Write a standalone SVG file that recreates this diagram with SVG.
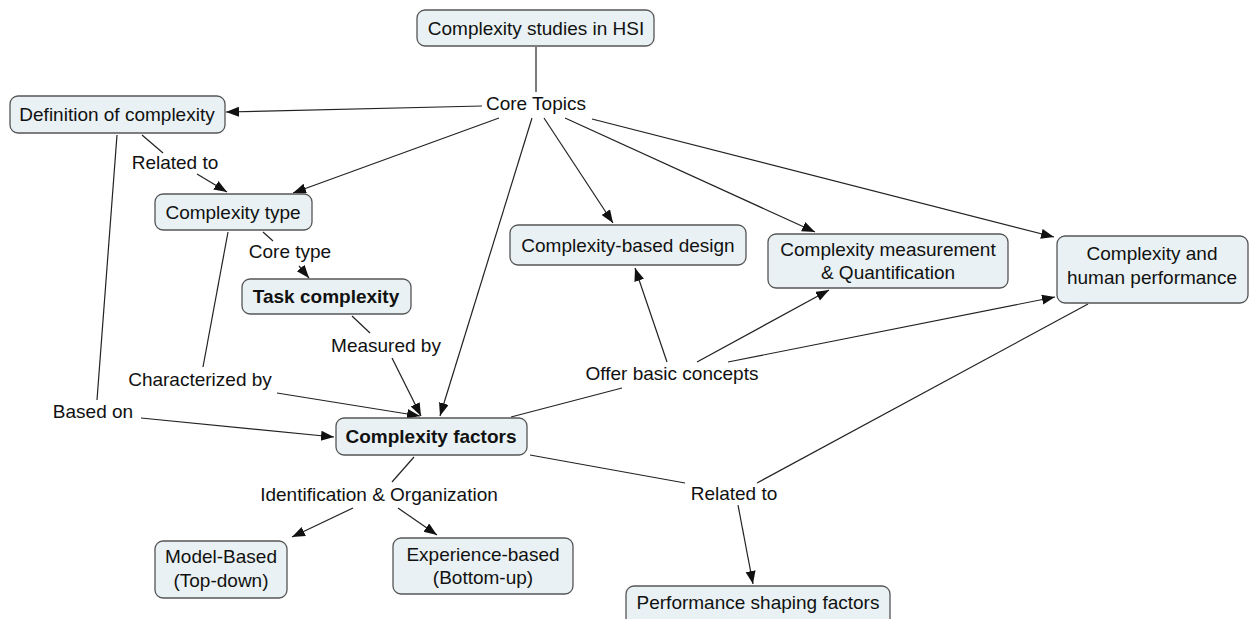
<svg xmlns="http://www.w3.org/2000/svg" width="1255" height="619" viewBox="0 0 1255 619">
<style>
.box{fill:#e9f1f4;stroke:#555;stroke-width:1.3}
text{font-family:"Liberation Sans",Arial,sans-serif;font-size:19px;fill:#111;text-anchor:middle}
.b{font-weight:bold}
.c line{stroke:#222;stroke-width:1.2;fill:none}
.c line.a{marker-end:url(#ah)}
</style>
<defs>
<marker id="ah" markerUnits="userSpaceOnUse" markerWidth="14" markerHeight="11" refX="13" refY="5" orient="auto">
<path d="M0,0 L13,5 L0,10 z" fill="#111"/>
</marker>
</defs>
<rect width="1255" height="619" fill="#fff"/>
<g class="c" id="connectors">
<line x1="536" y1="47" x2="536" y2="92"/>
<line class="a" x1="482" y1="106" x2="226" y2="112"/>
<line class="a" x1="499" y1="118" x2="293" y2="193"/>
<line class="a" x1="532" y1="118" x2="440" y2="416"/>
<line class="a" x1="544" y1="118" x2="613" y2="223"/>
<line class="a" x1="565" y1="118" x2="815" y2="232"/>
<line class="a" x1="592" y1="119" x2="1054" y2="237"/>
<line x1="142" y1="135" x2="163" y2="153"/>
<line class="a" x1="197" y1="174" x2="227" y2="192"/>
<line x1="263" y1="232" x2="273" y2="241"/>
<line class="a" x1="299" y1="266" x2="309" y2="278"/>
<line x1="228" y1="232" x2="203" y2="367"/>
<line x1="117" y1="135" x2="97" y2="400"/>
<line x1="352" y1="316" x2="370" y2="333"/>
<line class="a" x1="392" y1="358" x2="421" y2="416"/>
<line class="a" x1="277" y1="393" x2="420" y2="416"/>
<line class="a" x1="141" y1="418" x2="334" y2="437"/>
<line x1="511" y1="417" x2="622" y2="388"/>
<line class="a" x1="667" y1="362" x2="635" y2="268"/>
<line class="a" x1="697" y1="362" x2="829" y2="290"/>
<line class="a" x1="728" y1="362" x2="1055" y2="297"/>
<line x1="530" y1="455" x2="685" y2="483"/>
<line x1="1088" y1="304" x2="757" y2="483"/>
<line class="a" x1="738" y1="505" x2="753" y2="584"/>
<line x1="414" y1="457" x2="392" y2="482"/>
<line class="a" x1="353" y1="508" x2="292" y2="537"/>
<line class="a" x1="398" y1="508" x2="437" y2="535"/>
</g>
<g id="hsi"><rect class="box" x="417" y="10" width="237" height="36" rx="8"/><text x="536" y="35">Complexity studies in HSI</text></g>
<g id="coretopics"><text x="536" y="110">Core Topics</text></g>
<g id="definition"><rect class="box" x="10" y="96" width="215" height="37" rx="8"/><text x="117" y="121">Definition of complexity</text></g>
<g id="relatedto1"><text x="175" y="169">Related to</text></g>
<g id="ctype"><rect class="box" x="155" y="194" width="157" height="36" rx="8"/><text x="233" y="219">Complexity type</text></g>
<g id="coretype"><text x="290" y="258">Core type</text></g>
<g id="task"><rect class="box" x="242" y="279" width="169" height="35" rx="8"/><text class="b" x="326" y="303">Task complexity</text></g>
<g id="measured"><text x="386" y="352">Measured by</text></g>
<g id="characterized"><text x="200" y="386">Characterized by</text></g>
<g id="basedon"><text x="93" y="418">Based on</text></g>
<g id="cbd"><rect class="box" x="510" y="225" width="236" height="40" rx="8"/><text x="628" y="252">Complexity-based design</text></g>
<g id="cmq"><rect class="box" x="768" y="234" width="240" height="54" rx="8"/><text x="888" y="256">Complexity measurement</text><text x="888" y="279">&amp; Quantification</text></g>
<g id="chp"><rect class="box" x="1057" y="236" width="191" height="67" rx="8"/><text x="1152" y="260">Complexity and</text><text x="1152" y="284">human performance</text></g>
<g id="offer"><text x="672" y="380">Offer basic concepts</text></g>
<g id="cf"><rect class="box" x="336" y="418" width="191" height="37" rx="8"/><text class="b" x="431" y="443">Complexity factors</text></g>
<g id="ident"><text x="379" y="501">Identification &amp; Organization</text></g>
<g id="relatedto2"><text x="734" y="500">Related to</text></g>
<g id="model"><rect class="box" x="155" y="541" width="132" height="57" rx="8"/><text x="221" y="563">Model-Based</text><text x="221" y="587">(Top-down)</text></g>
<g id="experience"><rect class="box" x="393" y="538" width="180" height="56" rx="8"/><text x="483" y="561">Experience-based</text><text x="483" y="584">(Bottom-up)</text></g>
<g id="psf"><rect class="box" x="626" y="586" width="264" height="40" rx="8"/><text x="758" y="609">Performance shaping factors</text></g>
</svg>
